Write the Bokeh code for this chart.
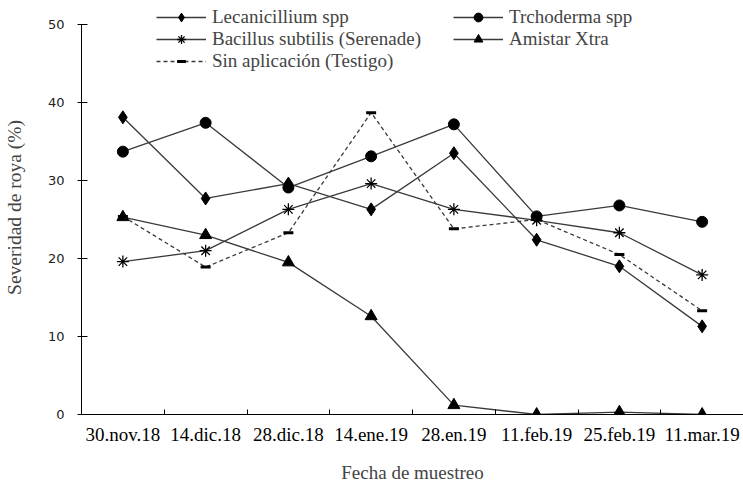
from bokeh.plotting import figure
from bokeh.models import FixedTicker, Legend, LegendItem, Range1d
from bokeh.embed import file_html
from bokeh.resources import INLINE

dates = ["30.nov.18", "14.dic.18", "28.dic.18", "14.ene.19", "28.en.19", "11.feb.19", "25.feb.19", "11.mar.19"]
lecanicillium = [38.1, 27.7, 29.6, 26.3, 33.5, 22.4, 19.0, 11.3]
trichoderma = [33.7, 37.4, 29.1, 33.1, 37.2, 25.4, 26.8, 24.7]
bacillus = [19.6, 21.0, 26.3, 29.6, 26.3, 24.9, 23.3, 17.9]
amistar = [25.3, 23.0, 19.5, 12.6, 1.2, 0.0, 0.3, 0.0]
testigo = [25.4, 18.9, 23.3, 38.7, 23.8, 25.0, 20.5, 13.3]
y_ticks = [0, 10, 20, 30, 40, 50]

x = [i + 0.5 for i in range(len(dates))]

SERIF = "Liberation Serif"
LINE = "#3a3a3a"

p = figure(width=743, height=486, output_backend="svg", toolbar_location=None,
           x_range=Range1d(0, 8.0), y_range=Range1d(0, 53.077),
           min_border_left=80, min_border_right=0, min_border_top=0, min_border_bottom=72)
p.outline_line_color = None
p.xgrid.visible = False
p.ygrid.visible = False
p.background_fill_color = "white"

# x axis
p.xaxis.ticker = FixedTicker(ticks=x, minor_ticks=[i for i in range(1, len(dates))])
p.xaxis.major_label_overrides = {xx: d for xx, d in zip(x, dates)}
p.xaxis.major_tick_in = 0
p.xaxis.major_tick_out = 0
p.xaxis.minor_tick_in = 5
p.xaxis.minor_tick_out = 0
p.xaxis.major_label_standoff = 9
p.xaxis.major_label_text_font = SERIF
p.xaxis.major_label_text_font_size = "19px"
p.xaxis.major_label_text_font_style = "normal"
p.xaxis.major_label_text_color = "black"
p.xaxis.axis_label = "Fecha de muestreo"
p.xaxis.axis_label_text_font = SERIF
p.xaxis.axis_label_text_font_size = "19px"
p.xaxis.axis_label_text_font_style = "normal"
p.xaxis.axis_label_standoff = 14
p.xaxis.axis_line_color = "black"
p.xaxis.minor_tick_line_color = "black"

# y axis
p.yaxis.bounds = (0, 50)
p.yaxis.ticker = FixedTicker(ticks=y_ticks, minor_ticks=[])
p.yaxis.major_tick_in = 6
p.yaxis.major_tick_out = 4
p.yaxis.major_label_standoff = 13
p.yaxis.major_label_text_font = "DejaVu Sans"
p.yaxis.major_label_text_font_size = "13px"
p.yaxis.major_label_text_color = "#222222"
p.yaxis.axis_label = "Severidad de roya (%)"
p.yaxis.axis_label_text_font = SERIF
p.yaxis.axis_label_text_font_size = "19.5px"
p.yaxis.axis_label_text_font_style = "normal"
p.yaxis.axis_label_standoff = 20
p.yaxis.axis_line_color = "black"
p.yaxis.major_tick_line_color = "black"

def series(vals, marker, size, dash="solid", mlw=1.0):
    ln = p.line(x, vals, line_color=LINE, line_width=1.3, line_dash=dash)
    sc = p.scatter(x, vals, marker=marker, size=size,
                   fill_color="black", line_color="black", line_width=mlw)
    return [ln, sc]

r_lec = series(lecanicillium, "diamond", 13)
r_tri = series(trichoderma, "circle", 11)
r_bac = series(bacillus, "asterisk", 12, mlw=1.3)
r_ami = series(amistar, "triangle", 12)
r_tes = series(testigo, "dash", 10, dash="4 3", mlw=3)

def make_legend(items, loc):
    lg = Legend(items=items, location=loc, orientation="vertical",
                glyph_width=50, glyph_height=22, label_height=22, spacing=0,
                label_standoff=6, padding=0, margin=0,
                border_line_color=None, background_fill_alpha=0,
                label_text_font=SERIF, label_text_font_size="19px",
                label_text_font_style="normal")
    p.add_layout(lg, "center")

make_legend([LegendItem(label="Lecanicillium spp", renderers=r_lec),
             LegendItem(label="Bacillus subtilis (Serenade)", renderers=r_bac),
             LegendItem(label="Sin aplicación (Testigo)", renderers=r_tes)], (75, 342))
make_legend([LegendItem(label="Trchoderma spp", renderers=r_tri),
             LegendItem(label="Amistar Xtra", renderers=r_ami)], (372, 364))

open("out.html", "w").write(file_html(p, INLINE))
